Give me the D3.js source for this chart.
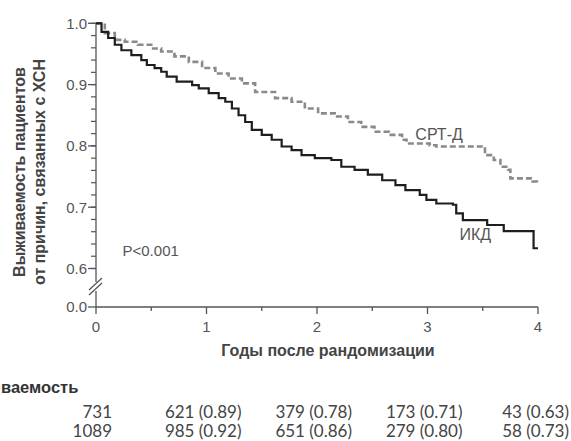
<!DOCTYPE html>
<html>
<head>
<meta charset="utf-8">
<script src="https://cdn.jsdelivr.net/npm/d3@7/dist/d3.min.js"></script>
<style>
  html, body { margin: 0; padding: 0; background: #fff; }
  svg { display: block; }
</style>
</head>
<body>
<script>
// ---------- DATA ----------
const yTicksMajor = [0.6, 0.7, 0.8, 0.9, 1.0];
const xTicksMajor = [0, 1, 2, 3, 4];
const xTicksMinor = [0.5, 1.5, 2.5, 3.5];

// ИКД (solid) step points [years, survival]
const icdT = [0, 0.05, 0.11, 0.17, 0.23, 0.32, 0.41, 0.46, 0.53, 0.59, 0.64, 0.73, 0.87, 0.93, 1.02, 1.11, 1.17, 1.23, 1.29, 1.35, 1.41, 1.50, 1.59, 1.68, 1.77, 1.86, 1.98, 2.13, 2.22, 2.34, 2.46, 2.59, 2.71, 2.80, 2.93, 2.99, 3.08, 3.23, 3.26, 3.32, 3.54, 3.69, 3.96, 4.0];
const icdS = [1.0, 0.986, 0.976, 0.965, 0.956, 0.948, 0.940, 0.932, 0.927, 0.921, 0.913, 0.905, 0.899, 0.894, 0.886, 0.878, 0.872, 0.861, 0.850, 0.839, 0.826, 0.818, 0.810, 0.799, 0.793, 0.785, 0.780, 0.777, 0.766, 0.761, 0.753, 0.744, 0.736, 0.728, 0.720, 0.712, 0.706, 0.704, 0.690, 0.679, 0.671, 0.661, 0.633, 0.633];

// СРТ-Д (dashed) step points
const crtT = [0, 0.08, 0.17, 0.26, 0.38, 0.50, 0.59, 0.71, 0.84, 0.96, 1.08, 1.20, 1.32, 1.44, 1.62, 1.77, 1.89, 2.01, 2.16, 2.28, 2.40, 2.52, 2.65, 2.77, 2.81, 3.02, 3.08, 3.52, 3.60, 3.66, 3.73, 3.75, 3.95, 3.99];
const crtS = [1.0, 0.984, 0.973, 0.970, 0.965, 0.959, 0.954, 0.946, 0.937, 0.927, 0.918, 0.910, 0.902, 0.888, 0.878, 0.872, 0.861, 0.853, 0.848, 0.839, 0.831, 0.823, 0.818, 0.810, 0.804, 0.801, 0.799, 0.785, 0.777, 0.766, 0.761, 0.747, 0.742, 0.736];

// Numbers at risk table (row 1: ИКД, row 2: СРТ-Д)
const tableTimes = [0, 1, 2, 3, 4];
const riskICD = [731, 621, 379, 173, 43];
const survICD = [null, 0.89, 0.78, 0.71, 0.63];
const riskCRT = [1089, 985, 651, 279, 58];
const survCRT = [null, 0.92, 0.86, 0.80, 0.73];

const labelICD = "ИКД";
const labelCRT = "СРТ-Д";
const yTitle1 = "Выживаемость пациентов";
const yTitle2 = "от причин, связанных с ХСН";
const xTitle = "Годы после рандомизации";
const tableTitle = "ваемость"; // visible (cropped) part of the table heading
const pText = "P<0.001";

// ---------- DRAW ----------
const W = 571, H = 441;
const svg = d3.select("body").append("svg").attr("width", W).attr("height", H);

const x = d3.scaleLinear().domain([0, 4]).range([96, 538]);
const y = d3.scaleLinear().domain([0.6, 1.0]).range([268.5, 23.3]);
const axisY0 = 307; // position of 0.0 / x-axis (broken axis)

const axisColor = "#555";
const textColor = "#555";
const sansFont = "'Liberation Sans', Arial, sans-serif";

// Y axis (upper part) with ticks
const yMinor = d3.range(0.6, 1.0001, 0.02).map(v => +v.toFixed(2));
const gY = svg.append("g").attr("transform", `translate(${x(0)},0)`);
gY.append("line").attr("x1", 0).attr("x2", 0).attr("y1", y(1.0)).attr("y2", 282)
  .attr("stroke", axisColor).attr("stroke-width", 1.3);
gY.selectAll("line.minor").data(yMinor).enter().append("line")
  .attr("x1", -5).attr("x2", 0).attr("y1", d => y(d)).attr("y2", d => y(d))
  .attr("stroke", axisColor).attr("stroke-width", 1.2);
gY.selectAll("line.major").data(yTicksMajor).enter().append("line")
  .attr("x1", -8).attr("x2", 0).attr("y1", d => y(d)).attr("y2", d => y(d))
  .attr("stroke", axisColor).attr("stroke-width", 1.3);
gY.selectAll("text.yl").data(yTicksMajor).enter().append("text")
  .attr("x", -9).attr("y", d => y(d)).attr("dy", "0.36em")
  .attr("text-anchor", "end").attr("font-family", sansFont).attr("font-size", 15)
  .attr("fill", textColor).text(d => d.toFixed(1));
// lower segment and 0.0
gY.append("line").attr("x1", 0).attr("x2", 0).attr("y1", 291).attr("y2", axisY0)
  .attr("stroke", axisColor).attr("stroke-width", 1.3);
gY.append("line").attr("x1", -8).attr("x2", 0).attr("y1", axisY0).attr("y2", axisY0)
  .attr("stroke", axisColor).attr("stroke-width", 1.3);
gY.append("text").attr("x", -9).attr("y", axisY0).attr("dy", "0.36em")
  .attr("text-anchor", "end").attr("font-family", sansFont).attr("font-size", 15)
  .attr("fill", textColor).text("0.0");
// break marks
[0, 5].forEach(o => {
  gY.append("line").attr("x1", -7).attr("y1", 290 + o).attr("x2", 6).attr("y2", 278 + o)
    .attr("stroke", axisColor).attr("stroke-width", 1.2);
});

// X axis
const gX = svg.append("g").attr("transform", `translate(0,${axisY0})`);
gX.append("line").attr("x1", x(0)).attr("x2", x(4)).attr("y1", 0).attr("y2", 0)
  .attr("stroke", axisColor).attr("stroke-width", 1.3);
gX.selectAll("line.maj").data(xTicksMajor).enter().append("line")
  .attr("x1", d => x(d)).attr("x2", d => x(d)).attr("y1", 0).attr("y2", 7)
  .attr("stroke", axisColor).attr("stroke-width", 1.3);
gX.selectAll("line.min").data(xTicksMinor).enter().append("line")
  .attr("x1", d => x(d)).attr("x2", d => x(d)).attr("y1", 0).attr("y2", 4)
  .attr("stroke", axisColor).attr("stroke-width", 1.3);
gX.selectAll("text").data(xTicksMajor).enter().append("text")
  .attr("x", d => x(d)).attr("y", 25).attr("text-anchor", "middle")
  .attr("font-family", sansFont).attr("font-size", 15).attr("fill", textColor)
  .text(d => d);

// Curves
const line = d3.line().x(d => x(d[0])).y(d => y(d[1])).curve(d3.curveStepAfter);
const icd = icdT.map((t, i) => [t, icdS[i]]);
const crt = crtT.map((t, i) => [t, crtS[i]]);
svg.append("path").datum(crt).attr("d", line).attr("fill", "none")
  .attr("stroke", "#8a8a8a").attr("stroke-width", 2.6).attr("stroke-dasharray", "6,3");
svg.append("path").datum(icd).attr("d", line).attr("fill", "none")
  .attr("stroke", "#1e1e1e").attr("stroke-width", 2.2);

// Curve labels
svg.append("text").attr("x", x(2.89)).attr("y", y(0.81)).attr("font-family", sansFont)
  .attr("font-size", 16).attr("fill", textColor).text(labelCRT);
svg.append("text").attr("x", x(3.29)).attr("y", y(0.647)).attr("font-family", sansFont)
  .attr("font-size", 16).attr("fill", textColor).text(labelICD);
svg.append("text").attr("x", x(0.24)).attr("y", y(0.62)).attr("font-family", sansFont)
  .attr("font-size", 15).attr("fill", textColor).text(pText);

// Axis titles
const yt = svg.append("g").attr("transform", "translate(0,172) rotate(-90)");
yt.append("text").attr("x", 0).attr("y", 25).attr("text-anchor", "middle")
  .attr("font-family", sansFont).attr("font-weight", "bold").attr("font-size", 16)
  .attr("fill", "#444").text(yTitle1);
yt.append("text").attr("x", 0).attr("y", 45).attr("text-anchor", "middle")
  .attr("font-family", sansFont).attr("font-weight", "bold").attr("font-size", 16)
  .attr("fill", "#444").text(yTitle2);
svg.append("text").attr("x", (x(0) + x(4)) / 2 + 11).attr("y", 356).attr("text-anchor", "middle")
  .attr("font-family", sansFont).attr("font-weight", "bold").attr("font-size", 16)
  .attr("fill", "#444").text(xTitle);

// Table
const tableFont = "Lato, 'Open Sans', sans-serif";
svg.append("text").attr("x", 1).attr("y", 393)
  .attr("font-family", sansFont).attr("font-weight", "bold").attr("font-size", 16.5)
  .attr("fill", "#333").text(tableTitle);
const rows = [
  { risk: riskICD, surv: survICD, yb: 418 },
  { risk: riskCRT, surv: survCRT, yb: 437 }
];
rows.forEach(r => {
  svg.selectAll(null).data(tableTimes).enter().append("text")
    .attr("x", (t) => Math.min(x(t) + (t === 0 ? 16 : 35), W - 2))
    .attr("y", r.yb).attr("text-anchor", "end")
    .attr("font-family", tableFont).attr("font-size", 17).attr("fill", "#444")
    .text((t, i) => r.surv[i] == null ? `${r.risk[i]}` : `${r.risk[i]} (${r.surv[i].toFixed(2)})`);
});
</script>
</body>
</html>
